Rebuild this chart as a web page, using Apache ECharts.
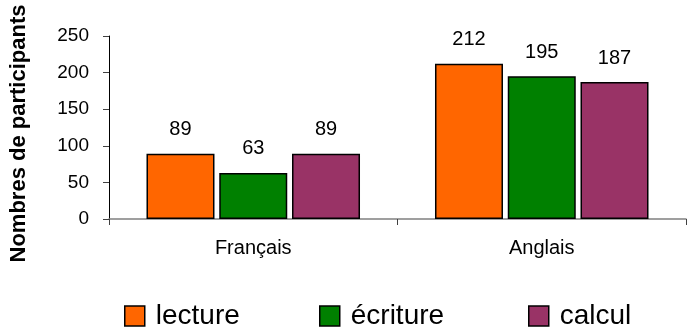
<!DOCTYPE html>
<html>
<head>
<meta charset="utf-8">
<script src="https://cdn.jsdelivr.net/npm/echarts@6/dist/echarts.min.js"></script>
<style>
  html, body { margin: 0; padding: 0; background: #fff; }
  #chart { width: 691px; height: 327px; }
</style>
</head>
<body>
<div id="chart"></div>
<script>
// Participants per language and skill
const categories = ['Français', 'Anglais'];
const seriesNames = ['lecture', 'écriture', 'calcul'];
const lecture = [89, 212];
const ecriture = [63, 195];
const calcul = [89, 187];
const yTicks = [0, 50, 100, 150, 200, 250];

const colors = ['#FF6600', '#008000', '#993366'];
const font = 'Liberation Sans, Arial, sans-serif';
const values = [lecture, ecriture, calcul];

const chart = echarts.init(document.getElementById('chart'), null, { renderer: 'canvas' });

const legendLefts = [119, 314, 523];

chart.setOption({
  animation: false,
  backgroundColor: '#ffffff',
  grid: { left: 108, right: 5, top: 36, bottom: 108, containLabel: false },
  xAxis: {
    type: 'category',
    data: categories,
    axisLine: { lineStyle: { color: '#808080', width: 1.5 } },
    axisTick: { show: true, length: 6, lineStyle: { color: '#404040' } },
    axisLabel: { color: '#000', fontFamily: font, fontSize: 20, margin: 19 }
  },
  yAxis: {
    type: 'value',
    min: yTicks[0],
    max: yTicks[yTicks.length - 1],
    interval: yTicks[1] - yTicks[0],
    name: 'Nombres de participants',
    nameLocation: 'middle',
    nameRotate: 90,
    nameGap: 79,
    nameTextStyle: {
      color: '#000', fontFamily: font, fontSize: 22, fontWeight: 'bold',
      padding: [0, 12, 0, 0]
    },
    axisLine: { show: true, lineStyle: { color: '#000', width: 1 } },
    axisTick: { show: true, length: 6, lineStyle: { color: '#404040' } },
    splitLine: { show: false },
    axisLabel: { color: '#000', fontFamily: font, fontSize: 19, margin: 20 }
  },
  legend: seriesNames.map((name, i) => ({
    data: [name],
    left: legendLefts[i],
    top: 297,
    icon: 'rect',
    itemWidth: 20,
    itemHeight: 20,
    itemStyle: { borderColor: '#000', borderWidth: 1.5 },
    textStyle: { color: '#000', fontFamily: font, fontSize: 28, padding: [0, 0, 0, 6] }
  })),
  series: seriesNames.map((name, i) => ({
    name: name,
    type: 'bar',
    data: values[i],
    barWidth: 68,
    barGap: '7%',
    itemStyle: { color: colors[i], borderColor: '#000', borderWidth: 1.5 },
    label: {
      show: true,
      position: 'top',
      distance: 14,
      color: '#000',
      fontFamily: font,
      fontSize: 20
    }
  }))
});
</script>
</body>
</html>
